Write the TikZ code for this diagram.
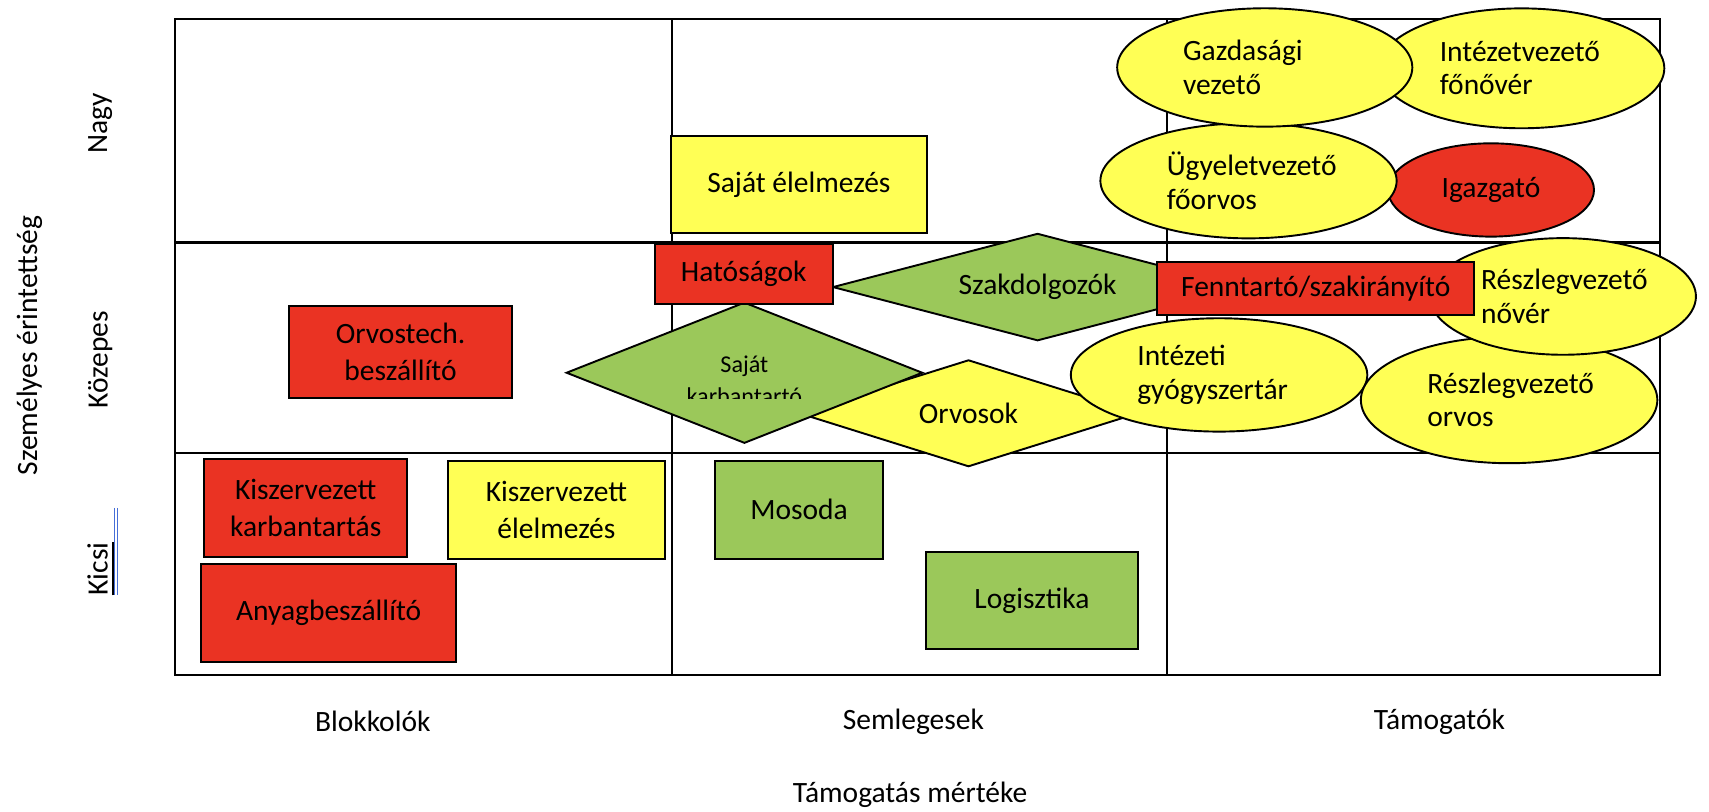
\documentclass[tikz,border=0pt]{standalone}
\usepackage{fontspec}
\setmainfont{Carlito}
\usetikzlibrary{shapes.geometric}
\definecolor{piros}{RGB}{234,51,35}
\definecolor{sarga}{RGB}{255,255,85}
\definecolor{zold}{RGB}{155,200,90}
\definecolor{kekvonal}{RGB}{70,110,215}
\tikzset{
  racs/.style={line width=0.6pt},
  doboz/.style={rectangle, draw=black, line width=0.5pt, align=center, inner sep=0pt},
  pirosdoboz/.style={doboz, fill=piros},
  sargadoboz/.style={doboz, fill=sarga},
  zolddoboz/.style={doboz, fill=zold},
  tojas/.style={ellipse, draw=black, line width=0.5pt, fill=sarga, inner sep=0pt,
    text width=15mm, align=left, font=\fontsize{7.7}{8.7}\selectfont},
  gyemant/.style={diamond, draw=black, line width=0.5pt, inner sep=0pt}
}
\begin{document}
\begin{tikzpicture}[x=0.1mm,y=-0.1mm,font=\fontsize{7.7}{9.7}\selectfont]
\useasboundingbox (0,0) rectangle (1568,745);
% racs
\draw[racs] (160.5,17.7) rectangle (1523.2,619);
\draw[racs] (616.3,17.7) -- (616.3,619) (1070.5,17.7) -- (1070.5,619);
\draw[racs] (160.5,222.6) -- (1523.2,222.6) (160.5,415.9) -- (1523.2,415.9);
% tengelyek
\node[rotate=90] (szemelyes) at (27,317) {Személyes érintettség};
\node[rotate=90] (nagy) at (92,113) {Nagy};
\node[rotate=90] (kozepes) at (92,330) {Közepes};
\node[rotate=90] (kicsi) at (93,522) {\underline{Kicsi}};
\draw[kekvonal, line width=0.3pt] (104.8,466) -- (104.8,546) (107.6,466) -- (107.6,546);
\node (blokkolok) at (342,662) {Blokkolók};
\node (semlegesek) at (838,662) {Semlegesek};
\node (tamogatok) at (1320.7,662) {Támogatók};
\node (mertek) at (835,729) {Támogatás mértéke};
% dobozok
\node[pirosdoboz, minimum width=20.5mm, minimum height=8.4mm] (orvostech) at (367.5,323) {Orvostech.\\beszállító};
\node[sargadoboz, minimum width=23.5mm, minimum height=8.9mm] (sajatelel) at (733,169.5) {Saját élelmezés};
\node[pirosdoboz, minimum width=18.6mm, minimum height=9mm] (kiszkarb) at (280.5,465.8) {Kiszervezett\\karbantartás};
\node[sargadoboz, minimum width=19.95mm, minimum height=9mm] (kiszelel) at (510.5,467.6) {Kiszervezett\\élelmezés};
\node[pirosdoboz, minimum width=23.43mm, minimum height=9.02mm] (anyag) at (301.5,562.5) {Anyagbeszállító};
\node[zolddoboz, minimum width=15.37mm, minimum height=9mm] (mosoda) at (733.2,467.6) {Mosoda};
\node[zolddoboz, minimum width=19.5mm, minimum height=8.93mm] (logisztika) at (946.8,551) {Logisztika};
% rombuszok
\node[gyemant, fill=zold, shape aspect=3.8, minimum width=37.6mm, minimum height=9.85mm] (szakdolg) at (952,263.4) {Szakdolgozók};
\node[gyemant, fill=sarga, shape aspect=3.2, minimum width=31.1mm, minimum height=9.8mm] (orvosok) at (888.6,379.2) {Orvosok};
\node[gyemant, fill=zold, shape aspect=2.5, minimum width=32.7mm, minimum height=12.94mm] (sajkarb) at (683,342) {};
\begin{scope}
  \clip (500,300) rectangle (870,365.4);
  \node[anchor=north, align=center, inner sep=0pt, font=\fontsize{6.3}{8.4}\selectfont] (sajkarbszoveg) at (683,325.5) {Saját\\karbantartó};
\end{scope}
\node[pirosdoboz, minimum width=16.36mm, minimum height=5.46mm] (hatosag) at (682.4,251.3) {Hatóságok};
% ellipszisek
\node[tojas, minimum width=27.2mm, minimum height=10.4mm] (gyogyszer) at (1118.5,344) {Intézeti\\gyógyszertár};
\node[tojas, minimum width=27.2mm, minimum height=11.6mm] (reszorvos) at (1384.6,367) {Részlegvezető\\orvos};
\node[tojas, minimum width=24.4mm, minimum height=10.7mm] (resznover) at (1434,272) {Részlegvezető\\nővér};
\node[pirosdoboz, minimum width=29.12mm, minimum height=4.89mm] (fenntarto) at (1207.2,264.6) {Fenntartó/szakirányító};
\node[tojas, minimum width=26.2mm, minimum height=11mm] (fonover) at (1396,62.7) {Intézetvezető\\főnővér};
\node[ellipse, draw=black, line width=0.5pt, fill=piros, inner sep=0pt, minimum width=18.9mm, minimum height=8.56mm] (igazgato) at (1368,174.3) {Igazgató};
\node[tojas, minimum width=27.18mm, minimum height=10.56mm] (ugyelet) at (1145.5,165.9) {Ügyeletvezető\\főorvos};
\node[tojas, minimum width=27.08mm, minimum height=10.86mm] (gazdasagi) at (1160.4,61.9) {Gazdasági\\vezető};
\end{tikzpicture}
\end{document}
